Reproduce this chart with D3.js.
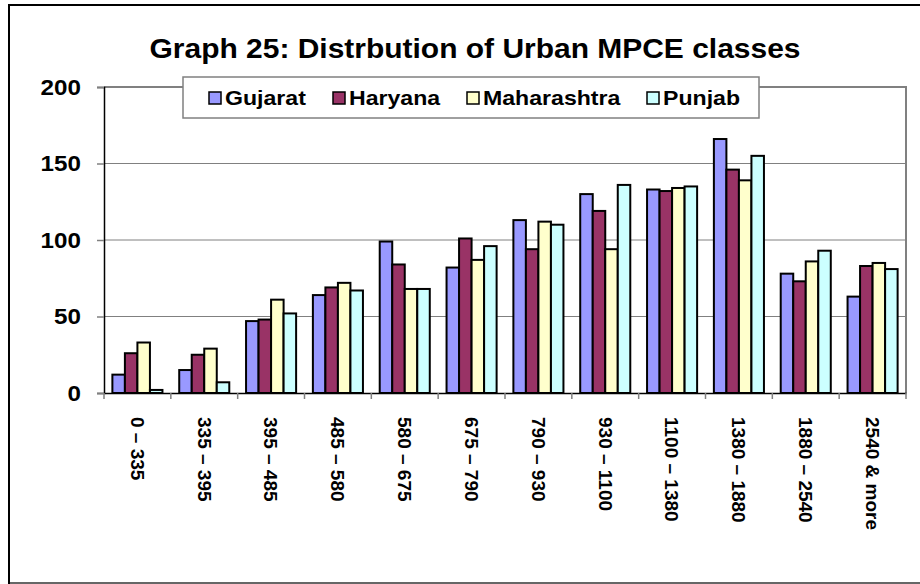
<!DOCTYPE html>
<html>
<head>
<meta charset="utf-8">
<script src="https://cdn.jsdelivr.net/npm/d3@7"></script>
<style>
  body { margin: 0; background: #fff; }
  svg { display: block; font-family: "Liberation Sans", Arial, sans-serif; font-weight: bold; }
</style>
</head>
<body>
<svg id="chart" width="920" height="584"></svg>
<script>
// values
const categories = ["0 \u2013 335", "335 \u2013 395", "395 \u2013 485", "485 \u2013 580", "580 \u2013 675", "675 \u2013 790",
  "790 \u2013 930", "930 \u2013 1100", "1100 \u2013 1380", "1380 \u2013 1880", "1880 \u2013 2540", "2540 & more"];
const seriesNames = ["Gujarat", "Haryana", "Maharashtra", "Punjab"];
const gujarat = [12, 15, 47, 64, 99, 82, 113, 130, 133, 166, 78, 63];
const haryana = [26, 25, 48, 69, 84, 101, 94, 119, 132, 146, 73, 83];
const maharashtra = [33, 29, 61, 72, 68, 87, 112, 94, 134, 139, 86, 85];
const punjab = [2, 7, 52, 67, 68, 96, 110, 136, 135, 155, 93, 81];
const yTicks = [0, 50, 100, 150, 200];
const colors = ["#9999FF", "#993366", "#FFFFCC", "#CCFFFF"];

const series = [gujarat, haryana, maharashtra, punjab];

const svg = d3.select("#chart");
const plot = { left: 104, right: 906, top: 87, bottom: 393 };

// glyphs in the source look a bit wider than Arial, stretch horizontally
function stretch(sel, k) {
  sel.each(function () {
    const len = this.getComputedTextLength();
    d3.select(this).attr("textLength", len * k).attr("lengthAdjust", "spacingAndGlyphs");
  });
}

// outer frame
svg.append("rect")
  .attr("x", 9).attr("y", 5).attr("width", 920).attr("height", 578)
  .attr("fill", "#fff").attr("stroke", "#000").attr("stroke-width", 2);
svg.append("line")
  .attr("x1", 10).attr("x2", 920).attr("y1", 583).attr("y2", 583)
  .attr("stroke", "#666").attr("stroke-width", 2);

const x = d3.scaleBand().domain(categories).range([plot.left, plot.right]).paddingInner(0).paddingOuter(0);
const inner = d3.scaleBand().domain(seriesNames).range([0, x.bandwidth()]).paddingInner(0).paddingOuter(0.67);
const y = d3.scaleLinear().domain([0, 200]).range([plot.bottom, plot.top]);

// title
svg.append("text")
  .attr("x", 475).attr("y", 58)
  .attr("text-anchor", "middle")
  .style("font-size", "28px")
  .text("Graph 25: Distrbution of Urban MPCE classes")
  .call(stretch, 1.07);

// gridlines
svg.append("g")
  .selectAll("line")
  .data(yTicks.filter(d => d > 0 && d < 200))
  .join("line")
  .attr("x1", plot.left).attr("x2", plot.right)
  .attr("y1", d => y(d)).attr("y2", d => y(d))
  .attr("stroke", "#808080").attr("stroke-width", 1);

// plot area frame (top and right, grey)
svg.append("path")
  .attr("d", `M${plot.left},${plot.top}H${plot.right}V${plot.bottom}`)
  .attr("fill", "none").attr("stroke", "#808080").attr("stroke-width", 2);

// bars
const groups = svg.append("g")
  .selectAll("g")
  .data(categories)
  .join("g")
  .attr("transform", d => `translate(${x(d)},0)`);

groups.selectAll("rect")
  .data((c, i) => seriesNames.map((s, j) => ({ s, j, v: series[j][i] })))
  .join("rect")
  .attr("x", d => inner(d.s))
  .attr("width", inner.bandwidth())
  .attr("y", d => y(d.v))
  .attr("height", d => y(0) - y(d.v))
  .attr("fill", d => colors[d.j])
  .attr("stroke", "#000").attr("stroke-width", 2);

// y axis
const yAxis = svg.append("g")
  .attr("transform", `translate(${plot.left},0)`)
  .call(d3.axisLeft(y).tickValues(yTicks).tickSize(7).tickPadding(16));
yAxis.select(".domain").attr("stroke", "#000").attr("stroke-width", 1.5);
yAxis.selectAll(".tick line").attr("stroke", "#808080").attr("stroke-width", 1.5);
yAxis.selectAll(".tick text")
  .attr("fill", "#000")
  .style("font-size", "22px")
  .style("font-family", "'Liberation Sans', Arial, sans-serif")
  .style("font-weight", "bold")
  .call(stretch, 1.1);

// x axis
const xAxis = svg.append("g")
  .attr("transform", `translate(0,${plot.bottom})`)
  .call(d3.axisBottom(x).tickSize(0).tickPadding(0));
xAxis.select(".domain").attr("stroke", "#000").attr("stroke-width", 1.5);
xAxis.selectAll(".tick text")
  .attr("fill", "#000")
  .style("font-size", "19px")
  .style("font-family", "'Liberation Sans', Arial, sans-serif")
  .style("font-weight", "bold")
  .attr("text-anchor", "start")
  .attr("dy", "0.35em")
  .attr("transform", "translate(0,24) rotate(90)");

// category separator ticks
svg.append("g")
  .selectAll("line")
  .data(d3.range(categories.length + 1))
  .join("line")
  .attr("x1", i => plot.left + i * x.bandwidth())
  .attr("x2", i => plot.left + i * x.bandwidth())
  .attr("y1", plot.bottom).attr("y2", plot.bottom + 6)
  .attr("stroke", "#808080").attr("stroke-width", 1.5);

// legend
const legend = svg.append("g");
legend.append("rect")
  .attr("x", 183).attr("y", 77).attr("width", 576).attr("height", 41)
  .attr("fill", "#fff").attr("stroke", "#808080").attr("stroke-width", 1.5);

const legendX = [209, 333, 467, 647];
const item = legend.selectAll("g.item")
  .data(seriesNames)
  .join("g")
  .attr("class", "item")
  .attr("transform", (d, i) => `translate(${legendX[i]},98)`);

item.append("rect")
  .attr("x", 0).attr("y", -6).attr("width", 12).attr("height", 12)
  .attr("fill", (d, i) => colors[i])
  .attr("stroke", "#000").attr("stroke-width", 1.5);

item.append("text")
  .attr("x", 16).attr("y", 7)
  .style("font-size", "21px")
  .text(d => d)
  .call(stretch, 1.1);
</script>
</body>
</html>
